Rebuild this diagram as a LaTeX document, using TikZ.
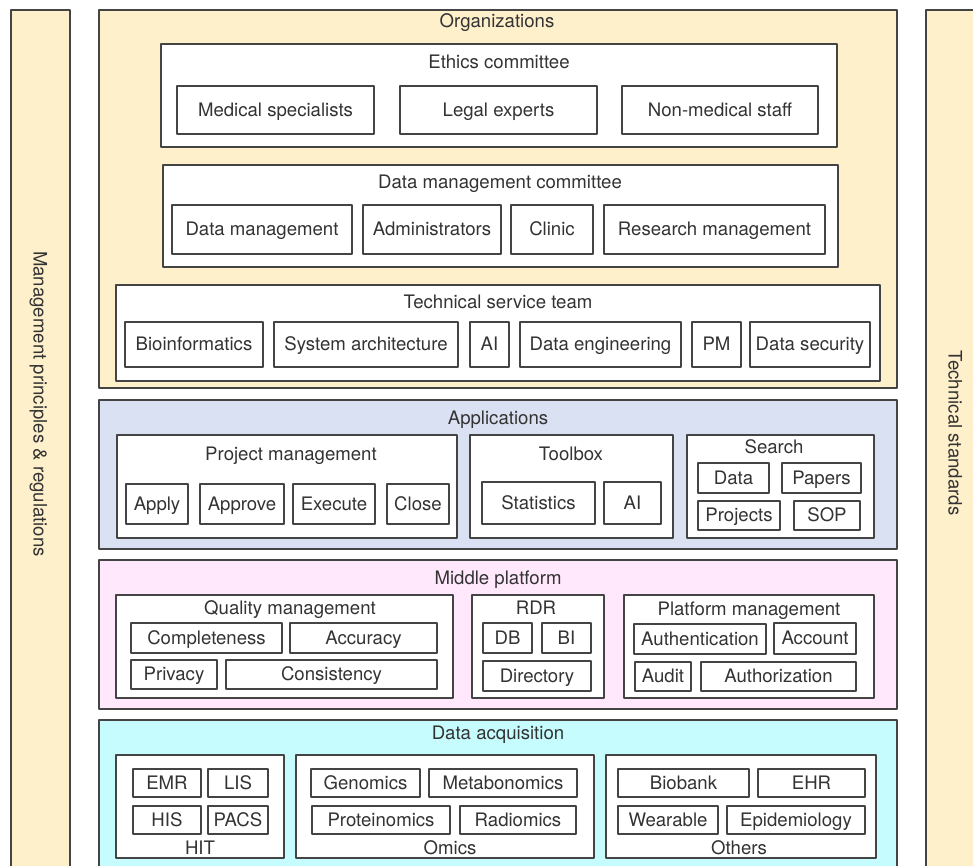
\documentclass[tikz,border=0pt]{standalone}
\usepackage{fontspec}
\setmainfont{TeX Gyre Heros}
\definecolor{orgfill}{HTML}{FFF0CC}
\definecolor{appfill}{HTML}{D9E1F2}
\definecolor{midfill}{HTML}{FFE8FC}
\definecolor{acqfill}{HTML}{C6FCFD}
\definecolor{linegray}{HTML}{444444}
\definecolor{textgray}{HTML}{333333}
\begin{document}
\begin{tikzpicture}[x=0.5pt, y=-0.5pt, font=\fontsize{9.3}{11}\selectfont, text=textgray,
		line join=round,
		every node/.append style={text height=1.6ex, text depth=0.4ex},
		layer/.style={draw=linegray, line width=0.7pt},
		box/.style={draw=linegray, line width=0.7pt, fill=white},
		title/.style={inner sep=0pt}]
			\clip (0,0) rectangle (973,866);
			\fill[white] (0,0) rectangle (973,866);
			% Side bars
			\draw[layer, fill=orgfill] (11,10) rectangle (70,890);
			\draw[layer, fill=orgfill] (926,10) rectangle (995,890);
			\node[rotate=-90] (rules) at (40,404) {Management principles \& regulations};
			\node[rotate=-90] (standards) at (955,433) {Technical standards};
			% Organizations
			\draw[layer, fill=orgfill] (99,10) rectangle (897,388);
			\node[title] (org) at (497,21) {Organizations};
			\draw[box] (161,44) rectangle (837,147);
			\node[title] (ethics) at (499,62) {Ethics committee};
			\draw[box] (177,86) rectangle node (medspec) {Medical specialists} (374,134);
			\draw[box] (400,86) rectangle node (legal) {Legal experts} (597,134);
			\draw[box] (622,86) rectangle node (nonmed) {Non-medical staff} (818,134);
			\draw[box] (163,165) rectangle (838,267);
			\node[title] (dmc) at (500,182) {Data management committee};
			\draw[box] (172,205) rectangle node (datamgmt) {Data management} (352,254);
			\draw[box] (363,205) rectangle node (admins) {Administrators} (501,254);
			\draw[box] (511,205) rectangle node (clinic) {Clinic} (593,254);
			\draw[box] (604,205) rectangle node (resmgmt) {Research management} (825,254);
			\draw[box] (116,285) rectangle (880,381);
			\node[title] (tst) at (498,302) {Technical service team};
			\draw[box] (125,322) rectangle node (bioinf) {Bioinformatics} (263,367);
			\draw[box] (274,322) rectangle node (sysarch) {System architecture} (458,367);
			\draw[box] (470,322) rectangle node (aiteam) {AI} (509,367);
			\draw[box] (520,322) rectangle node (dataeng) {Data engineering} (681,367);
			\draw[box] (692,322) rectangle node (pmteam) {PM} (741,367);
			\draw[box] (750,322) rectangle node (datasec) {Data security} (870,367);
			% Applications
			\draw[layer, fill=appfill] (99,400) rectangle (897,549);
			\node[title] (apps) at (498,418) {Applications};
			\draw[box] (117,435) rectangle (457,538);
			\node[title] (projmgmt) at (291,454) {Project management};
			\draw[box] (126,484) rectangle node (apply) {Apply} (188,524);
			\draw[box] (200,484) rectangle node (approve) {Approve} (284,524);
			\draw[box] (293,484) rectangle node (execute) {Execute} (375,524);
			\draw[box] (387,484) rectangle node (close) {Close} (449,524);
			\draw[box] (470,435) rectangle (673,538);
			\node[title] (toolbox) at (571,454) {Toolbox};
			\draw[box] (482,482) rectangle node (stats) {Statistics} (595,524);
			\draw[box] (604,482) rectangle node (aitool) {AI} (661,524);
			\draw[box] (687,435) rectangle (874,538);
			\node[title] (search) at (774,447) {Search};
			\draw[box] (698,463) rectangle node (sdata) {Data} (769,493);
			\draw[box] (782,463) rectangle node (papers) {Papers} (861,493);
			\draw[box] (698,501) rectangle node (projects) {Projects} (780,530);
			\draw[box] (794,501) rectangle node (sop) {SOP} (860,530);
			% Middle platform
			\draw[layer, fill=midfill] (99,560) rectangle (897,709);
			\node[title] (middle) at (498,578) {Middle platform};
			\draw[box] (116,595) rectangle (453,698);
			\node[title] (quality) at (290,608) {Quality management};
			\draw[box] (131,623) rectangle node (complete) {Completeness} (282,653);
			\draw[box] (290,623) rectangle node (accuracy) {Accuracy} (437,653);
			\draw[box] (131,660) rectangle node (privacy) {Privacy} (217,689);
			\draw[box] (226,660) rectangle node (consist) {Consistency} (437,689);
			\draw[box] (472,595) rectangle (604,698);
			\node[title] (rdr) at (536,608) {RDR};
			\draw[box] (483,623) rectangle node (db) {DB} (532,653);
			\draw[box] (542,623) rectangle node (bi) {BI} (591,653);
			\draw[box] (483,661) rectangle node (directory) {Directory} (591,691);
			\draw[box] (624,595) rectangle (874,698);
			\node[title] (platmgmt) at (749,609) {Platform management};
			\draw[box] (634,624) rectangle node (authent) {Authentication} (766,654);
			\draw[box] (774,623) rectangle node (account) {Account} (856,654);
			\draw[box] (635,662) rectangle node (audit) {Audit} (691,691);
			\draw[box] (701,662) rectangle node (authoriz) {Authorization} (856,691);
			% Data acquisition
			\draw[layer, fill=acqfill] (99,720) rectangle (897,890);
			\node[title] (acq) at (498,733) {Data acquisition};
			\draw[box] (116,755) rectangle (284,858);
			\node[title] (hit) at (200,848) {HIT};
			\draw[box] (133,769) rectangle node (emr) {EMR} (201,797);
			\draw[box] (208,769) rectangle node (lis) {LIS} (268,797);
			\draw[box] (133,806) rectangle node (his) {HIS} (201,834);
			\draw[box] (208,806) rectangle node (pacs) {PACS} (268,834);
			\draw[box] (296,755) rectangle (594,858);
			\node[title] (omics) at (450,848) {Omics};
			\draw[box] (311,769) rectangle node (genomics) {Genomics} (420,797);
			\draw[box] (429,769) rectangle node (metab) {Metabonomics} (577,797);
			\draw[box] (312,806) rectangle node (proteo) {Proteinomics} (450,834);
			\draw[box] (460,806) rectangle node (radio) {Radiomics} (576,834);
			\draw[box] (606,755) rectangle (876,858);
			\node[title] (others) at (739,848) {Others};
			\draw[box] (618,769) rectangle node (biobank) {Biobank} (749,797);
			\draw[box] (758,769) rectangle node (ehr) {EHR} (865,797);
			\draw[box] (618,806) rectangle node (wearable) {Wearable} (718,834);
			\draw[box] (727,806) rectangle node (epidem) {Epidemiology} (865,834);
		\end{tikzpicture}
\end{document}
